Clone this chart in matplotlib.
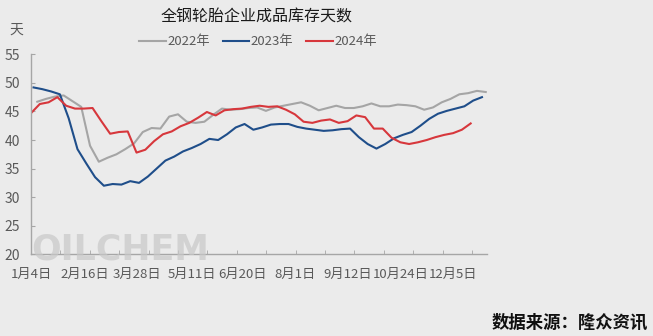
import numpy as np
import matplotlib
matplotlib.use('Agg')
import matplotlib.pyplot as plt

plt.rcParams['font.family'] = ['Noto Sans CJK SC', 'DejaVu Sans']

# x axis is days counted from 1月4日, one point per week
tick_days = [0, 43, 84, 128, 168, 210, 252, 294, 336]
tick_labels = ['1月4日', '2月16日', '3月28日', '5月11日', '6月20日',
               '8月1日', '9月12日', '10月24日', '12月5日']

start_2022 = 5
start_2023 = 2
start_2024 = 0

vals_2022 = [46.7, 47.2, 47.6, 47.8, 46.8, 45.8, 39.0, 36.2, 36.9, 37.5,
             38.4, 39.4, 41.4, 42.1, 42.0, 44.1, 44.5, 43.2, 43.0, 43.2,
             44.4, 45.5, 45.3, 45.4, 45.6, 45.7, 45.1, 45.7, 46.0, 46.3,
             46.6, 46.0, 45.2, 45.6, 46.0, 45.6, 45.6, 45.9, 46.4, 45.9,
             45.9, 46.2, 46.1, 45.9, 45.3, 45.7, 46.6, 47.2, 48.0, 48.2,
             48.6, 48.4]
vals_2023 = [49.2, 48.9, 48.5, 48.0, 43.8, 38.4, 35.9, 33.5, 32.0, 32.3,
             32.2, 32.8, 32.5, 33.6, 35.0, 36.4, 37.1, 38.0, 38.6, 39.3,
             40.2, 40.0, 41.0, 42.2, 42.8, 41.8, 42.2, 42.7, 42.8, 42.8,
             42.3, 42.0, 41.8, 41.6, 41.7, 41.9, 42.0, 40.5, 39.3, 38.5,
             39.3, 40.3, 40.9, 41.4, 42.5, 43.7, 44.6, 45.1, 45.5, 45.9,
             46.9, 47.5]
vals_2024 = [44.7, 46.3, 46.6, 47.5, 46.0, 45.5, 45.5, 45.6, 43.3, 41.1,
             41.4, 41.5, 37.8, 38.3, 39.8, 41.0, 41.5, 42.4, 43.0, 43.9,
             44.9, 44.3, 45.2, 45.4, 45.5, 45.8, 46.0, 45.8, 45.9, 45.3,
             44.5, 43.2, 43.0, 43.4, 43.6, 43.0, 43.3, 44.3, 44.0, 42.0,
             42.0, 40.4, 39.6, 39.3, 39.6, 40.0, 40.5, 40.9, 41.2, 41.8,
             42.9]

bg = '#ebebeb'
fig = plt.figure(figsize=(6.53, 3.36), dpi=100, facecolor=bg)
ax = fig.add_axes([31/653, 1-254.3/336, (487-31)/653, 200/336])
ax.set_facecolor(bg)

# watermark sits behind everything
fig.text(31/653, 1-250/336, 'OILCHEM', ha='left', va='center',
         fontsize=25, fontweight='bold', color='#c8c8c8', alpha=0.7,
         family=['Liberation Sans Narrow', 'DejaVu Sans'], zorder=0)

series = [
    ('2022年', start_2022, vals_2022, '#a5a5a5'),
    ('2023年', start_2023, vals_2023, '#1f4e8a'),
    ('2024年', start_2024, vals_2024, '#d7373c'),
]
for name, s, v, c in series:
    x = s + 7*np.arange(len(v))
    ax.plot(x, v, color=c, lw=1.5, label=name, solid_joinstyle='round')

ax.set_xlim(0, 363)
ax.set_ylim(20, 55)
ax.set_yticks(range(20, 56, 5))
ax.set_xticks(tick_days)
ax.set_xticklabels(tick_labels)
ax.set_xticks(np.arange(0, 363, 23.4), minor=True)
ax.tick_params(axis='x', which='major', length=0, labelsize=9.5,
               colors='#595959', pad=10)
ax.tick_params(axis='x', which='minor', length=3, direction='in',
               color='#a6a6a6')
ax.tick_params(axis='y', length=3, direction='in', color='#a6a6a6',
               labelsize=10, labelcolor='#595959', pad=8)
for sp in ['top', 'right']:
    ax.spines[sp].set_visible(False)
for sp in ['left', 'bottom']:
    ax.spines[sp].set_color('#a6a6a6')
    ax.spines[sp].set_linewidth(1)

fig.text(257/653, 1-17/336, '全钢轮胎企业成品库存天数', ha='center',
         va='center', fontsize=11.5, color='#1a1a1a')
fig.text(16/653, 1-30/336, '天', ha='center', va='center', fontsize=10,
         color='#595959')
fig.legend(loc='center', bbox_to_anchor=(258/653, 1-42/336), ncol=3,
           frameon=False, fontsize=9.5, labelcolor='#595959',
           handlelength=2.0, handletextpad=0.1, columnspacing=1.0)
fig.text(648/653, 1-323/336, '数据来源：隆众资讯', ha='right', va='center',
         fontsize=12.5, fontweight='bold', color='#111111')

fig.savefig('out.png', dpi=100, facecolor=bg)
